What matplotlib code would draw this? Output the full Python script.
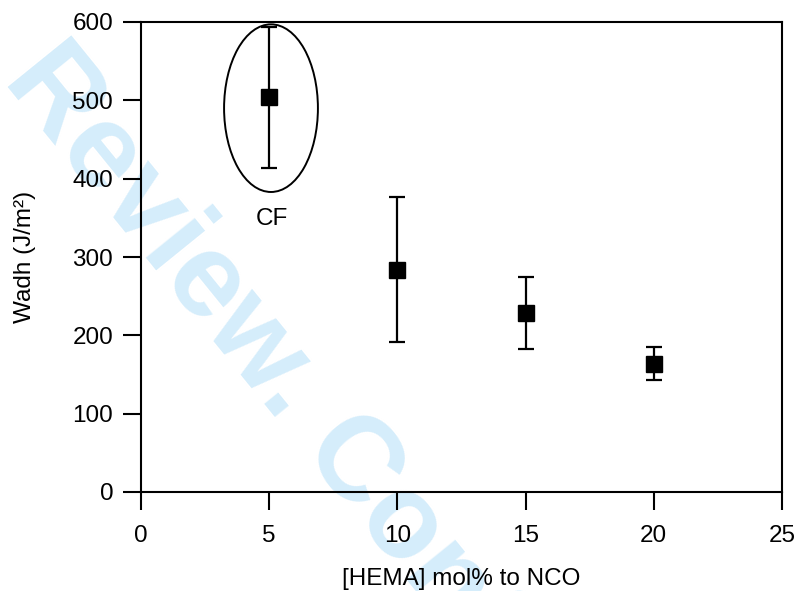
import matplotlib
matplotlib.use("Agg")
import matplotlib.pyplot as plt
from matplotlib.patches import Ellipse

# data
hema = [5, 10, 15, 20]
wadh = [504, 284, 229, 164]
wadh_err = [90, 93, 46, 21]

x_ticks = [0, 5, 10, 15, 20, 25]
y_ticks = [0, 100, 200, 300, 400, 500, 600]

plt.rcParams['font.family'] = ['Liberation Sans', 'DejaVu Sans']


def main():
    fig = plt.figure(figsize=(7.98, 5.91), dpi=100)
    ax = fig.add_axes([141 / 798, 1 - 492 / 591, (782 - 141) / 798, (492 - 22) / 591])
    ax.patch.set_alpha(0)

    # watermark behind everything
    fig.text(2 / 798, 1 - 80 / 591, "Review. Confidential - ACS", fontsize=86,
             fontweight='bold', color='#d5edfb', rotation=-51,
             rotation_mode='anchor', ha='left', va='baseline', zorder=-1)

    ax.errorbar(hema, wadh, yerr=wadh_err, fmt='s', color='black', ms=11,
                elinewidth=1.6, capsize=5.5, capthick=1.6, zorder=3)

    ell = Ellipse((5.07, 490), width=3.66, height=214, fill=False,
                  edgecolor='black', lw=1.4, clip_on=False)
    ax.add_patch(ell)
    ax.text(5.1, 348, "CF", fontsize=17.5, ha='center', va='center')

    ax.set_xlim(0, 25)
    ax.set_ylim(0, 600)
    ax.set_xticks(x_ticks)
    ax.set_yticks(y_ticks)
    for s in ax.spines.values():
        s.set_linewidth(1.5)
    ax.tick_params(direction='out', length=13, width=1.5, labelsize=17.5)
    ax.tick_params(axis='x', pad=11)
    ax.tick_params(axis='y', pad=7)

    ax.set_xlabel("[HEMA] mol% to NCO", fontsize=17.5, labelpad=15)
    ax.set_ylabel("Wadh (J/m\u00b2)", fontsize=17.5, labelpad=26)

    fig.savefig("out.png", dpi=100)


if __name__ == '__main__':
    main()
